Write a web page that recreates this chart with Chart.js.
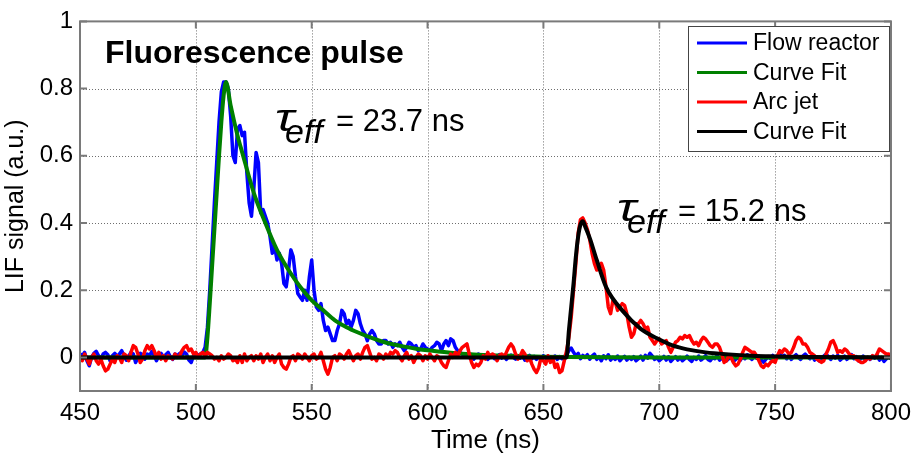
<!DOCTYPE html>
<html>
<head>
<meta charset="utf-8">
<script src="https://cdn.jsdelivr.net/npm/chart.js@4.4.0/dist/chart.umd.min.js"></script>
<style>
  html, body { margin: 0; padding: 0; background: #fff; }
  #wrap { width: 919px; height: 458px; }
</style>
</head>
<body>
<div id="wrap"><canvas id="lifChart" width="919" height="458"></canvas></div>
<script>
// both measured traces: one sample per ns, from 450 ns to 800 ns
const traceStart = 450;
const traceStep = 1;

const flowReactor = [
  0.01, 0.005, 0.015, -0.01, -0.025, 0.0, 0.012, 0.018, 0.005, -0.005,      // 450
  0.01, 0.015, 0.008, -0.01, 0.005, 0.012, 0.003, 0.01, 0.02, 0.005,        // 460
  -0.008, 0.004, 0.015, 0.01, -0.015, 0.0, 0.012, 0.008, -0.005, 0.01,      // 470
  0.005, 0.018, 0.006, -0.01, 0.004, 0.012, 0.0, 0.008, 0.015, 0.002,       // 480
  -0.006, 0.01, 0.005, 0.012, 0.004, 0.016, 0.01, -0.008, -0.015, 0.005,    // 490
  0.012, 0.006, 0.01, 0.015, 0.03, 0.09, 0.2, 0.33, 0.46, 0.58,             // 500
  0.7, 0.79, 0.82, 0.82, 0.8, 0.72, 0.6, 0.58, 0.68, 0.69,                  // 510
  0.66, 0.67, 0.55, 0.46, 0.42, 0.5, 0.61, 0.58, 0.43, 0.44,                // 520
  0.42, 0.4, 0.36, 0.31, 0.33, 0.29, 0.31, 0.28, 0.22, 0.21,                // 530
  0.26, 0.32, 0.3, 0.24, 0.19, 0.18, 0.17, 0.2, 0.17, 0.24,                 // 540
  0.29, 0.2, 0.15, 0.14, 0.16, 0.11, 0.08, 0.09, 0.07, 0.05,                // 550
  0.05, 0.08, 0.1, 0.14, 0.13, 0.1, 0.11, 0.09, 0.11, 0.14,                 // 560
  0.13, 0.1, 0.08, 0.07, 0.05, 0.07, 0.08, 0.07, 0.05, 0.04,                // 570
  0.04, 0.05, 0.05, 0.04, 0.045, 0.03, 0.04, 0.035, 0.045, 0.03,            // 580
  0.02, 0.03, 0.045, 0.04, 0.03, 0.035, 0.02, 0.025, 0.04, 0.03,            // 590
  0.025, 0.02, 0.03, 0.035, 0.045, 0.04, 0.02, 0.04, 0.05, 0.035,           // 600
  0.055, 0.05, 0.03, 0.02, 0.015, 0.01, 0.005, 0.01, 0.0, 0.008,            // 610
  -0.005, 0.005, 0.01, -0.003, 0.004, 0.008, -0.006, 0.002, 0.006, -0.004,  // 620
  0.003, 0.008, -0.002, 0.005, -0.006, 0.002, 0.007, 0.0, -0.005, 0.004,    // 630
  -0.002, 0.005, -0.008, 0.0, 0.006, -0.004, 0.003, -0.006, 0.002, -0.003,  // 640
  0.005, -0.002, 0.004, -0.005, 0.0, 0.004, -0.006, 0.002, -0.004, 0.003,   // 650
  0.008, 0.02, 0.028, 0.015, 0.005, 0.012, -0.004, 0.006, 0.0, 0.008,       // 660
  -0.005, 0.004, 0.01, -0.006, 0.002, -0.01, 0.005, -0.004, 0.008, -0.008,  // 670
  0.0, -0.006, 0.004, -0.01, -0.002, 0.003, -0.008, 0.0, -0.006, 0.002,     // 680
  -0.01, -0.004, 0.004, -0.008, 0.006, -0.002, 0.012, 0.004, -0.006, 0.0,   // 690
  -0.01, -0.004, 0.003, -0.008, 0.002, -0.012, -0.004, 0.002, -0.008, 0.0,  // 700
  -0.01, -0.004, 0.004, -0.006, -0.012, 0.0, -0.006, 0.004, -0.008, -0.002, // 710
  0.005, -0.006, -0.01, 0.0, -0.004, 0.006, -0.008, -0.002, 0.004, -0.01,   // 720
  -0.004, 0.002, -0.012, -0.006, 0.0, -0.008, 0.004, -0.004, 0.008, 0.0,    // 730
  -0.006, 0.006, -0.002, 0.004, -0.008, -0.014, -0.006, 0.002, -0.004, 0.006, // 740
  -0.002, 0.004, 0.01, 0.002, 0.006, -0.004, 0.004, -0.006, 0.002, 0.008,   // 750
  0.0, -0.006, 0.004, 0.01, 0.002, -0.004, 0.006, -0.008, 0.0, -0.01,       // 760
  -0.004, 0.004, 0.01, 0.002, -0.006, 0.004, -0.002, 0.006, -0.008, -0.002, // 770
  0.004, -0.006, 0.002, 0.008, -0.004, 0.002, -0.01, -0.004, 0.004, -0.008, // 780
  0.0, -0.006, 0.004, -0.002, 0.006, -0.008, 0.0, -0.012, -0.004, 0.002,    // 790
  -0.004                                                                    // 800
];

const arcJet = [
  0.005, -0.01, 0.01, -0.005, -0.02, 0.0, 0.01, -0.01, -0.02, -0.005,       // 450
  -0.025, -0.04, -0.035, -0.02, -0.005, -0.015, 0.005, 0.0, -0.015, 0.01,   // 460
  0.005, -0.01, 0.015, 0.035, 0.03, 0.01, -0.015, -0.005, 0.02, 0.035,      // 470
  0.025, 0.035, 0.02, 0.0, 0.015, -0.005, 0.005, -0.01, 0.005, 0.0,         // 480
  -0.005, 0.01, 0.0, 0.005, 0.02, 0.03, 0.035, 0.02, 0.025, 0.01,           // 490
  0.015, 0.0, 0.01, 0.015, 0.005, 0.015, 0.01, 0.005, -0.005, 0.0,          // 500
  -0.01, 0.005, -0.005, 0.0, 0.01, 0.005, -0.01, -0.005, -0.015, 0.005,     // 510
  -0.015, 0.01, -0.01, 0.0, 0.005, -0.01, 0.005, -0.005, 0.01, -0.015,      // 520
  0.0, 0.01, -0.01, 0.005, -0.015, 0.0, 0.01, -0.02, -0.03, -0.035,         // 530
  -0.02, 0.0, 0.005, -0.01, 0.01, 0.005, -0.005, 0.01, 0.0, -0.01,          // 540
  0.005, 0.01, -0.005, 0.0, 0.015, -0.01, -0.035, -0.05, -0.03, 0.0,        // 550
  0.005, -0.01, 0.01, 0.005, -0.005, 0.01, 0.02, 0.005, -0.01, 0.005,       // 560
  0.01, -0.005, 0.015, 0.03, 0.035, 0.015, -0.005, 0.0, -0.01, 0.01,        // 570
  0.005, -0.005, 0.01, 0.0, 0.015, 0.01, 0.02, 0.015, 0.0, -0.01,           // 580
  0.005, 0.015, -0.005, 0.005, -0.015, 0.0, 0.01, 0.005, -0.01, 0.005,      // 590
  -0.005, 0.01, 0.0, -0.01, 0.005, 0.0, -0.015, -0.025, -0.03, -0.01,       // 600
  0.01, 0.0, 0.015, 0.005, 0.02, 0.03, 0.035, 0.04, 0.01, -0.015,           // 610
  -0.03, -0.02, -0.025, -0.015, 0.005, -0.005, 0.015, 0.0, 0.01, 0.005,     // 620
  -0.01, 0.005, 0.01, 0.0, 0.015, 0.03, 0.04, 0.03, 0.01, -0.005,           // 630
  0.005, 0.02, 0.01, -0.01, 0.0, -0.02, -0.035, -0.045, -0.03, 0.0,         // 640
  -0.01, -0.02, 0.005, -0.015, 0.0, -0.03, -0.02, -0.045, -0.04, -0.01,     // 650
  0.02, 0.06, 0.12, 0.2, 0.28, 0.37, 0.41, 0.415, 0.4, 0.38,                // 660
  0.35, 0.31, 0.28, 0.26, 0.265, 0.28, 0.26, 0.21, 0.15, 0.13,              // 670
  0.17, 0.165, 0.14, 0.15, 0.16, 0.155, 0.13, 0.09, 0.06, 0.07,             // 680
  0.1, 0.1, 0.11, 0.1, 0.085, 0.09, 0.06, 0.05, 0.04, 0.05,                 // 690
  0.055, 0.04, 0.045, 0.05, 0.03, 0.015, 0.03, 0.045, 0.05, 0.06,           // 700
  0.055, 0.065, 0.06, 0.065, 0.05, 0.04, 0.045, 0.035, 0.05, 0.06,          // 710
  0.055, 0.045, 0.035, 0.03, 0.04, 0.04, 0.03, 0.01, -0.015, -0.01,         // 720
  0.005, 0.0, -0.015, -0.025, -0.02, -0.005, 0.015, 0.03, 0.025, 0.02,      // 730
  0.015, 0.015, 0.005, -0.01, -0.025, -0.03, -0.02, -0.025, -0.015, -0.01,  // 740
  -0.015, 0.005, 0.02, 0.015, 0.025, 0.02, 0.01, 0.015, 0.03, 0.05,         // 750
  0.06, 0.055, 0.04, 0.04, 0.03, 0.015, 0.01, 0.005, -0.005, -0.01,         // 760
  -0.015, -0.01, 0.01, 0.025, 0.045, 0.05, 0.035, 0.015, 0.02, 0.015,       // 770
  0.025, 0.02, 0.01, 0.005, 0.005, -0.005, -0.01, -0.015, -0.015, -0.01,    // 780
  0.0, -0.005, 0.005, 0.0, 0.01, 0.025, 0.02, 0.015, 0.01, 0.01,            // 790
  0.005                                                                     // 800
];

// fitted curves at these times (ns)
const flowFitTimes  = [450, 504, 505, 506, 507, 508, 509, 510, 511, 512, 513, 515, 518, 520, 525, 530, 535, 540, 545, 550, 555, 560, 565, 570, 575, 580, 585, 590, 595, 600, 610, 620, 630, 640, 650, 660, 700, 800];
const flowFitValues = [0, 0, 0.06, 0.16, 0.27, 0.38, 0.49, 0.6, 0.7, 0.78, 0.82, 0.75, 0.66, 0.61, 0.49, 0.4, 0.32, 0.26, 0.21, 0.17, 0.14, 0.11, 0.09, 0.074, 0.06, 0.048, 0.039, 0.032, 0.026, 0.021, 0.014, 0.009, 0.006, 0.004, 0.002, 0.001, 0, 0];

const arcFitTimes  = [450, 660, 661, 662, 663, 664, 665, 666, 667, 668, 670, 673, 677, 684, 692, 699, 706, 712, 720, 730, 740, 750, 765, 800];
const arcFitValues = [0, 0, 0.08, 0.15, 0.22, 0.3, 0.36, 0.395, 0.405, 0.39, 0.355, 0.29, 0.21, 0.14, 0.085, 0.057, 0.035, 0.024, 0.015, 0.009, 0.005, 0.003, 0.001, 0];

const xTicks = [450, 500, 550, 600, 650, 700, 750, 800];
const yTicks = [0, 0.2, 0.4, 0.6, 0.8, 1];
const seriesNames = ['Flow reactor', 'Curve Fit', 'Arc jet', 'Curve Fit'];

const traceTimes = flowReactor.map((_, i) => traceStart + i * traceStep);
const toPoints = (xs, ys) => xs.map((x, i) => ({x: x, y: ys[i]}));

const FONT = 'Arial, "Liberation Sans", sans-serif';

// matlab style: dotted grid, grey box with inward ticks, legend and notes inside the axes
const matlabAxes = {
    id: 'matlabAxes',
    beforeDatasetsDraw(chart) {
        const {ctx, chartArea: a, scales: {x, y}} = chart;
        ctx.save();
        ctx.strokeStyle = '#6e6e6e';
        ctx.lineWidth = 1;
        ctx.setLineDash([1, 2]);
        ctx.beginPath();
        xTicks.slice(1, -1).forEach(v => {
            const px = Math.round(x.getPixelForValue(v)) + 0.5;
            ctx.moveTo(px, a.top);
            ctx.lineTo(px, a.bottom);
        });
        yTicks.slice(0, -1).forEach(v => {
            const py = Math.round(y.getPixelForValue(v)) + 0.5;
            ctx.moveTo(a.left, py);
            ctx.lineTo(a.right, py);
        });
        ctx.stroke();
        ctx.restore();
    },
    afterDatasetsDraw(chart) {
        const {ctx, chartArea: a, scales: {x, y}} = chart;
        ctx.save();
        // box + ticks
        ctx.strokeStyle = '#7a7a7a';
        ctx.lineWidth = 2;
        ctx.strokeRect(a.left, a.top, a.right - a.left, a.bottom - a.top);
        ctx.beginPath();
        const tl = 7;
        xTicks.forEach(v => {
            const px = x.getPixelForValue(v);
            ctx.moveTo(px, a.bottom); ctx.lineTo(px, a.bottom - tl);
            ctx.moveTo(px, a.top); ctx.lineTo(px, a.top + tl);
        });
        yTicks.forEach(v => {
            const py = y.getPixelForValue(v);
            ctx.moveTo(a.left, py); ctx.lineTo(a.left + tl, py);
            ctx.moveTo(a.right, py); ctx.lineTo(a.right - tl, py);
        });
        ctx.stroke();

        // legend
        const lx = 688, ly = 26, lw = 201, lh = 125;
        ctx.fillStyle = '#fff';
        ctx.fillRect(lx, ly, lw, lh);
        ctx.strokeStyle = '#444';
        ctx.lineWidth = 1;
        ctx.strokeRect(lx + 0.5, ly + 0.5, lw, lh);
        ctx.font = '23px ' + FONT;
        ctx.textBaseline = 'middle';
        ctx.textAlign = 'left';
        chart.data.datasets.forEach((ds, i) => {
            const ry = ly + 17 + i * 29.5;
            ctx.strokeStyle = ds.borderColor;
            ctx.lineWidth = 3;
            ctx.beginPath();
            ctx.moveTo(lx + 9, ry); ctx.lineTo(lx + 59, ry);
            ctx.stroke();
            ctx.fillStyle = '#000';
            ctx.fillText(ds.label, lx + 65, ry + 1);
        });

        // title and lifetimes
        ctx.fillStyle = '#000';
        ctx.textBaseline = 'alphabetic';
        ctx.font = 'bold 32px ' + FONT;
        ctx.fillText('Fluorescence pulse', 105, 63);
        const tau = (tx, ty, txt) => {
            ctx.save();
            ctx.translate(tx, ty);
            ctx.scale(1.35, 1);
            ctx.font = 'italic 38px ' + FONT;
            ctx.fillText('τ', 0, 0);
            ctx.restore();
            ctx.font = 'italic 34px ' + FONT;
            ctx.fillText('eff', tx + 10, ty + 12);
            ctx.font = '31px ' + FONT;
            ctx.fillText(txt, tx + 61, ty);
        };
        tau(275, 131, '= 23.7 ns');
        tau(617, 221, '= 15.2 ns');
        ctx.restore();
    }
};

new Chart(document.getElementById('lifChart'), {
    type: 'line',
    data: {
        datasets: [
            {label: seriesNames[0], data: toPoints(traceTimes, flowReactor), borderColor: '#0000ff', borderWidth: 3.5, order: 4},
            {label: seriesNames[1], data: toPoints(flowFitTimes, flowFitValues), borderColor: '#008000', borderWidth: 4, cubicInterpolationMode: 'monotone', order: 3},
            {label: seriesNames[2], data: toPoints(traceTimes, arcJet), borderColor: '#ff0000', borderWidth: 3.5, order: 2},
            {label: seriesNames[3], data: toPoints(arcFitTimes, arcFitValues), borderColor: '#000000', borderWidth: 4, cubicInterpolationMode: 'monotone', order: 1}
        ]
    },
    options: {
        responsive: false,
        animation: false,
        events: [],
        elements: {point: {radius: 0}, line: {borderJoinStyle: 'round'}},
        layout: {padding: {top: 17, right: 23, left: 0, bottom: 0}},
        plugins: {legend: {display: false}, tooltip: {enabled: false}},
        scales: {
            x: {
                type: 'linear', min: 450, max: 800,
                afterBuildTicks: s => { s.ticks = xTicks.map(v => ({value: v})); },
                afterFit: s => { s.height = 67; },
                grid: {display: false, drawTicks: false},
                border: {display: false},
                ticks: {color: '#000', font: {family: FONT, size: 24}, padding: 8, maxRotation: 0},
                title: {display: true, text: 'Time (ns)', color: '#000', font: {family: FONT, size: 26}, padding: {top: 0, bottom: 2}}
            },
            y: {
                type: 'linear', min: -0.1, max: 1,
                afterBuildTicks: s => { s.ticks = yTicks.map(v => ({value: v})); },
                afterFit: s => { s.width = 80; },
                grid: {display: false, drawTicks: false},
                border: {display: false},
                ticks: {color: '#000', font: {family: FONT, size: 24}, padding: 7, callback: v => String(v)},
                title: {display: true, text: 'LIF signal (a.u.)', color: '#000', font: {family: FONT, size: 25}, padding: {top: 1, bottom: 0}}
            }
        }
    },
    plugins: [matlabAxes]
});
</script>
</body>
</html>
